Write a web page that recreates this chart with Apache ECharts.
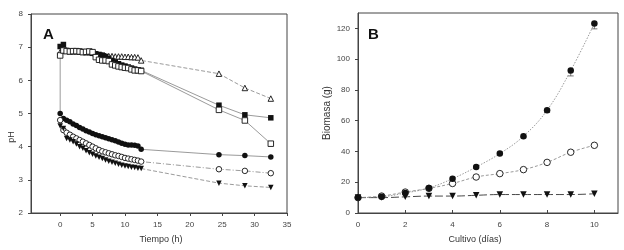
<!DOCTYPE html>
<html><head><meta charset="utf-8">
<script src="https://cdn.jsdelivr.net/npm/echarts@6/dist/echarts.min.js"></script>
<style>html,body{margin:0;padding:0;background:#fff}#c{width:624px;height:250px}</style>
</head><body><div id="c"></div>
<script>
// Panel A: pH vs Tiempo (h)
var tiempo = [0,0.5,1,1.5,2,2.5,3,3.5,4,4.5,5,5.5,6,6.5,7,7.5,8,8.5,9,9.5,10,10.5,11,11.5,12,12.5,24.5,28.5,32.5];
var phFilledSquare = [7.02,7.08,6.9,6.88,6.88,6.88,6.87,6.86,6.86,6.86,6.82,6.8,6.78,6.76,6.72,6.66,6.6,6.55,6.5,6.46,6.43,6.4,6.37,6.34,6.32,6.3,5.25,4.96,4.87];
var phOpenSquare = [6.75,6.9,6.88,6.87,6.88,6.88,6.87,6.85,6.86,6.87,6.85,6.7,6.62,6.6,6.6,6.58,6.48,6.45,6.42,6.4,6.38,6.37,6.33,6.3,6.3,6.28,5.11,4.79,4.09];
var phOpenTriangle = [6.85,6.9,6.9,6.88,6.88,6.88,6.87,6.86,6.85,6.85,6.83,6.8,6.77,6.75,6.74,6.73,6.73,6.72,6.72,6.72,6.71,6.71,6.7,6.7,6.69,6.6,6.2,5.77,5.45];
var phFilledCircleStart = 6.75;
var phFilledCircle = [5.0,4.85,4.8,4.75,4.68,4.64,4.58,4.53,4.48,4.44,4.4,4.36,4.33,4.3,4.27,4.24,4.21,4.18,4.14,4.1,4.07,4.05,4.05,4.04,4.02,3.92,3.76,3.73,3.69];
var phOpenCircle = [4.8,4.5,4.42,4.36,4.3,4.25,4.2,4.15,4.1,4.05,4.0,3.95,3.9,3.86,3.83,3.8,3.77,3.74,3.72,3.69,3.66,3.64,3.62,3.6,3.58,3.55,3.32,3.27,3.2];
var phDownTriangle = [4.62,4.55,4.25,4.2,4.15,4.08,4.0,3.95,3.88,3.82,3.77,3.72,3.68,3.64,3.6,3.56,3.53,3.5,3.47,3.44,3.42,3.4,3.38,3.37,3.35,3.34,2.9,2.82,2.77];
var ticksA_x = [0,5,10,15,20,25,30,35];
var ticksA_y = [2,3,4,5,6,7,8];

// Panel B: Biomasa (g) vs Cultivo (días)
var dias = [0,1,2,3,4,5,6,7,8,9,10];
var bioFilledCircle = [10,10.5,13,16.3,22.3,29.9,38.6,49.9,66.8,92.6,123.2];
var bioFilledErr = [0,0,0,0,0,0,0,1,1.5,3.5,3.5];
var bioOpenCircle = [10,11,13.6,16,19.2,23.4,25.6,28.2,32.9,39.5,44];
var bioDownTriangle = [10,10,10.5,11,11,11.5,12,12,12,12,12.5];
var ticksB_x = [0,2,4,6,8,10];
var ticksB_y = [0,20,40,60,80,100,120];

function zip(xs, ys){ return xs.map(function(x,i){ return [x, ys[i]]; }); }

var chart = echarts.init(document.getElementById('c'), null, {renderer:'canvas'});
var axisTxt = {color:'#444', fontSize:8, fontFamily:'Liberation Sans, Arial, sans-serif'};
var lineCol = '#808080';

function mkAxis(gi, min, max, ticks, inside){
  return {
    gridIndex: gi, type:'value', min:min, max:max,
    splitLine:{show:false},
    axisLine:{show:true, onZero:false, lineStyle:{color:'#444', width:1}},
    axisTick:{show:true, inside:inside, length:3, customValues:ticks, lineStyle:{color:'#444'}},
    axisLabel:Object.assign({customValues:ticks, margin:8}, axisTxt)
  };
}

var filledCircleData = [{value:[0, phFilledCircleStart], symbol:'none'}].concat(zip(tiempo, phFilledCircle));

function sym(name, filled, size, rot){
  return {
    symbol:name, symbolSize:size, symbolRotate:rot||0,
    itemStyle:{color: filled ? '#111' : '#fff', borderColor:'#111', borderWidth: filled ? 0 : 0.9}
  };
}

var series = [
  Object.assign({type:'line', xAxisIndex:0, yAxisIndex:0, data:zip(tiempo, phOpenTriangle),
    lineStyle:{color:lineCol, width:0.8, type:[4,2]}}, sym('triangle', false, 5.5)),
  Object.assign({type:'line', xAxisIndex:0, yAxisIndex:0, data:zip(tiempo, phFilledSquare),
    lineStyle:{color:lineCol, width:0.8}}, sym('rect', true, 5.5)),
  Object.assign({type:'line', xAxisIndex:0, yAxisIndex:0, data:zip(tiempo, phOpenSquare),
    lineStyle:{color:lineCol, width:0.8}}, sym('rect', false, 5.5)),
  Object.assign({type:'line', xAxisIndex:0, yAxisIndex:0, data:filledCircleData,
    lineStyle:{color:lineCol, width:0.8}}, sym('circle', true, 5.5)),
  Object.assign({type:'line', xAxisIndex:0, yAxisIndex:0, data:zip(tiempo, phOpenCircle),
    lineStyle:{color:lineCol, width:0.8, type:[5,2,1,2]}}, sym('circle', false, 5.5)),
  Object.assign({type:'line', xAxisIndex:0, yAxisIndex:0, data:zip(tiempo, phDownTriangle),
    lineStyle:{color:lineCol, width:0.8, type:[4,2]}}, sym('triangle', true, 5.5, 180)),

  Object.assign({type:'line', xAxisIndex:1, yAxisIndex:1, smooth:0.4, data:zip(dias, bioDownTriangle),
    lineStyle:{color:'#333', width:0.9, type:[8,3]}}, sym('triangle', true, 6.5, 180)),
  Object.assign({type:'line', xAxisIndex:1, yAxisIndex:1, smooth:0.4, data:zip(dias, bioOpenCircle),
    lineStyle:{color:lineCol, width:0.8, type:[3,2]}}, sym('circle', false, 6.5)),
  Object.assign({type:'line', xAxisIndex:1, yAxisIndex:1, smooth:0.4, data:zip(dias, bioFilledCircle),
    lineStyle:{color:lineCol, width:0.8, type:[1.5,1.5]}}, sym('circle', true, 6.5)),
  {
    type:'custom', xAxisIndex:1, yAxisIndex:1, z:1,
    data: dias.map(function(d,i){ return [d, bioFilledCircle[i], bioFilledErr[i]]; }),
    renderItem:function(params, api){
      var e = api.value(2);
      if (!e) return null;
      var p0 = api.coord([api.value(0), api.value(1)]);
      var p1 = api.coord([api.value(0), api.value(1) - e]);
      return {type:'group', children:[
        {type:'line', shape:{x1:p0[0], y1:p0[1], x2:p1[0], y2:p1[1]}, style:{stroke:'#555', lineWidth:0.8}},
        {type:'line', shape:{x1:p1[0]-3, y1:p1[1], x2:p1[0]+3, y2:p1[1]}, style:{stroke:'#555', lineWidth:0.8}}
      ]};
    }
  }
];

var ff = 'Liberation Sans, Arial, sans-serif';
chart.setOption({
  animation:false,
  backgroundColor:'#fff',
  grid:[
    {left:31, right:337, top:14, bottom:37, show:true, borderColor:'#444', borderWidth:1},
    {left:358, right:6, top:13, bottom:37, show:true, borderColor:'#444', borderWidth:1}
  ],
  xAxis:[
    mkAxis(0, -4.5, 35, ticksA_x, false),
    mkAxis(1, 0, 11, ticksB_x, true)
  ],
  yAxis:[
    mkAxis(0, 2, 8, ticksA_y, false),
    mkAxis(1, 0, 130, ticksB_y, false)
  ],
  series:series,
  graphic:[
    {type:'text', left:43, top:27, style:{text:'A', font:'bold 15px '+ff, fill:'#111'}},
    {type:'text', left:368, top:27, style:{text:'B', font:'bold 15px '+ff, fill:'#111'}},
    {type:'text', x:12, y:137, rotation:Math.PI/2, style:{text:'pH', font:'9px '+ff, fill:'#333', align:'center', verticalAlign:'middle'}},
    {type:'text', x:327, y:113, rotation:Math.PI/2, style:{text:'Biomasa (g)', font:'10px '+ff, fill:'#333', align:'center', verticalAlign:'middle'}},
    {type:'text', x:161, y:240, style:{text:'Tiempo (h)', font:'9px '+ff, fill:'#333', align:'center', verticalAlign:'middle'}},
    {type:'text', x:475, y:240, style:{text:'Cultivo (días)', font:'9px '+ff, fill:'#333', align:'center', verticalAlign:'middle'}}
  ]
});
</script></body></html>
